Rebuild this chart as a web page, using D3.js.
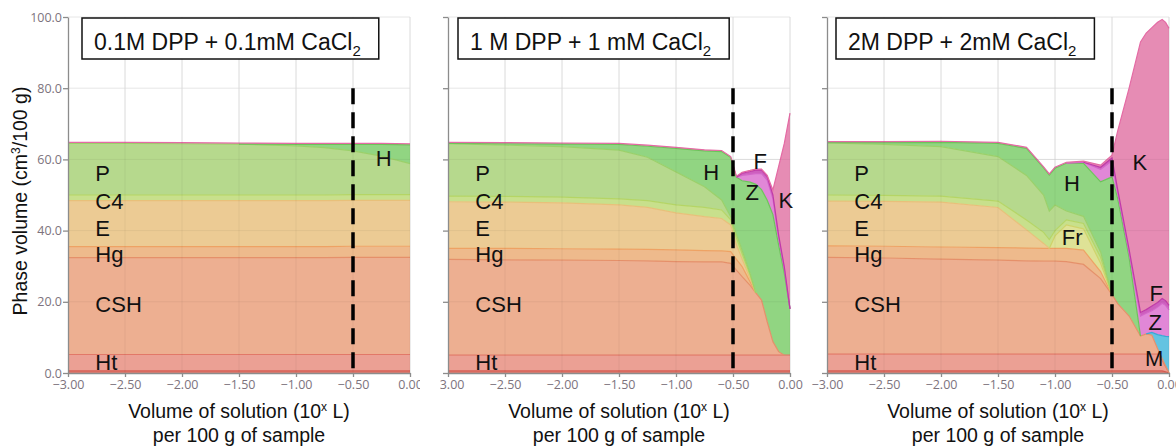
<!DOCTYPE html>
<html>
<head>
<meta charset="utf-8">
<script src="https://cdn.jsdelivr.net/npm/d3@7"></script>
<style>
  body { margin: 0; background: #fff; }
  svg { display: block; }
  .axis .tick text { font-family: "Open Sans", sans-serif; font-size: 12.5px; fill: #7d737d; }
  .axis path, .axis line { stroke: #8c8c8c; stroke-width: 1.3; }
  .phaseLabel { font-family: "Liberation Sans", Arial, sans-serif; font-size: 22px; fill: #111; }
  .title, .axisTitle { font-family: "Liberation Sans", Arial, sans-serif; fill: #111; }
</style>
</head>
<body>
<svg id="chart" width="1176" height="446"></svg>
<script>

/****************
***** DATA  *****
****************/

// stacking order, bottom to top
const phases = ["base", "Ht", "CSH", "M", "Hg", "E", "Fr", "C4", "P", "H", "Z", "F", "K"];

const xTicks = [-3, -2.5, -2, -1.5, -1, -0.5, 0];
const yTicks = [0, 20, 40, 60, 80, 100];

const titles = ["0.1M DPP + 0.1mM CaCl", "1 M DPP + 1 mM CaCl", "2M DPP + 2mM CaCl"];

// panel 1 : 0.1M DPP
const x1 = [-3, -2.5, -2, -1.5, -1, -0.75, -0.5, -0.25, 0];
const base1 = [0.6, 0.6, 0.6, 0.6, 0.6, 0.6, 0.6, 0.6, 0.6];
const ht1 = [4.6, 4.6, 4.6, 4.6, 4.6, 4.6, 4.6, 4.6, 4.6];
const csh1 = [27.2, 27.2, 27.2, 27.2, 27.2, 27.2, 27.3, 27.3, 27.3];
const m1 = [0, 0, 0, 0, 0, 0, 0, 0, 0];
const hg1 = [3.1, 3.1, 3.1, 3.1, 3.1, 3.1, 3.1, 3.1, 3.1];
const e1 = [12.9, 12.9, 12.9, 12.9, 12.9, 12.9, 12.9, 12.9, 12.9];
const fr1 = [0, 0, 0, 0, 0, 0, 0, 0, 0];
const c4_1 = [1.6, 1.6, 1.6, 1.6, 1.6, 1.6, 1.6, 1.6, 1.6];
const p1 = [14.5, 14.5, 14.4, 14.3, 13.8, 13.3, 12.3, 10.8, 8.7];
const h1 = [0, 0, 0, 0, 0.4, 0.9, 1.8, 3.3, 5.3];
const z1 = [0, 0, 0, 0, 0, 0, 0, 0, 0];
const f1 = [0, 0, 0, 0, 0, 0, 0, 0, 0];
const k1 = [0.3, 0.3, 0.3, 0.3, 0.3, 0.3, 0.3, 0.3, 0.3];

// panel 2 : 1 M DPP
const x2 = [-3, -2.5, -2, -1.5, -1.25, -1, -0.75, -0.6, -0.52, -0.47, -0.42, -0.35, -0.3, -0.25, -0.2, -0.15, -0.1, -0.05, 0];
const base2 = [0.6, 0.6, 0.6, 0.6, 0.6, 0.6, 0.6, 0.6, 0.6, 0.6, 0.6, 0.6, 0.6, 0.6, 0.6, 0.6, 0.6, 0.6, 0.6];
const ht2 = [4.4, 4.4, 4.4, 4.4, 4.4, 4.4, 4.4, 4.4, 4.4, 4.4, 4.4, 4.4, 4.4, 4.4, 4.4, 4.4, 4.4, 4.4, 4.4];
const csh2 = [26.9, 26.8, 26.7, 26.6, 26.5, 26.3, 26.2, 26.2, 25.8, 23.9, 22.1, 19.6, 17.5, 15.5, 9.4, 3.8, 1.0, 0, 0];
const m2 = [0, 0, 0, 0, 0, 0, 0, 0, 0, 0, 0, 0, 0, 0, 0, 0, 0, 0, 0];
const hg2 = [3.1, 3.2, 3.2, 3.2, 3.2, 3.3, 3.2, 3.1, 3.3, 3.0, 2.8, 1.0, 0, 0, 0, 0, 0, 0, 0];
const e2 = [13.1, 13.0, 12.9, 12.4, 11.8, 10.4, 9.5, 9.1, 7.5, 4.1, 2.1, 0.9, 0, 0, 0, 0, 0, 0, 0];
const fr2 = [0, 0, 0, 0, 0, 0, 0, 0, 0, 0, 0, 0, 0, 0, 0, 0, 0, 0, 0];
const c4_2 = [1.6, 1.6, 1.6, 1.7, 1.9, 2.2, 2.6, 2.4, 1.4, 2.0, 1.5, 1.0, 0, 0, 0, 0, 0, 0, 0];
const p2 = [14.7, 14.4, 14.2, 13.7, 12.2, 9.3, 5.8, 2.8, 0.9, 1.0, 1.0, 0.5, 0, 0, 0, 0, 0, 0, 0];
const h2 = [0.1, 0.4, 0.7, 1.6, 3.1, 6.6, 10.1, 13.6, 16.6, 16.0, 19.5, 25.6, 30.5, 31.0, 34.1, 35.7, 30.0, 23.0, 13.0];
const z2 = [0, 0, 0, 0, 0, 0, 0, 0, 0, 0, 1.5, 2.2, 3.0, 4.5, 5.7, 4.5, 2.0, 1.2, 0];
const f2 = [0, 0, 0, 0, 0, 0, 0, 0, 0, 0, 0.6, 0.8, 1.0, 1.0, 1.0, 1.0, 0.8, 0.6, 0];
const k2 = [0.3, 0.3, 0.3, 0.3, 0.3, 0.3, 0.3, 0.3, 0.3, 0.3, 0.3, 0.3, 0.3, 0.3, 0.3, 1.4, 19.2, 34.7, 55.0];

// panel 3 : 2M DPP
const x3 = [-3, -2.5, -2, -1.5, -1.25, -1.1, -1.05, -1.0, -0.9, -0.75, -0.6, -0.5, -0.45, -0.35, -0.25, -0.2, -0.15, -0.1, -0.06, -0.03, 0];
const base3 = [0.6, 0.6, 0.6, 0.6, 0.6, 0.6, 0.6, 0.6, 0.6, 0.6, 0.6, 0.6, 0.6, 0.6, 0.6, 0.6, 0.6, 0.6, 0.6, 0.3, 0];
const ht3 = [4.7, 4.7, 4.7, 4.7, 4.7, 4.7, 4.7, 4.7, 4.7, 4.7, 4.7, 4.7, 4.7, 4.7, 4.7, 4.7, 4.7, 4.7, 2.9, 1.5, 0];
const csh3 = [27.2, 27.0, 26.7, 26.4, 26.2, 26.1, 26.1, 26.1, 26.0, 25.2, 21.2, 16.7, 14.2, 10.7, 5.1, 5.7, 5.3, 1.5, 0.6, 0.2, 0];
const m3 = [0, 0, 0, 0, 0, 0, 0, 0, 0, 0, 0, 0, 0, 0, 0, 0, 0.8, 4.0, 6.4, 8.3, 10.2];
const hg3 = [3.2, 3.3, 3.4, 3.5, 3.6, 3.6, 3.6, 3.6, 3.7, 4.0, 2.0, 0, 0, 0, 0, 0, 0, 0, 0, 0, 0];
const e3 = [12.6, 12.6, 12.6, 11.3, 5.1, 1.4, 0, 0, 0, 0, 0, 0, 0, 0, 0, 0, 0, 0, 0, 0, 0];
const fr3 = [0, 0, 0, 0, 0, 0, 0, 3.5, 6.6, 6.0, 2.3, 0, 0, 0, 0, 0, 0, 0, 0, 0, 0];
const c4_3 = [1.7, 1.7, 1.7, 1.8, 2.8, 3.1, 2.5, 1.5, 1.4, 1.5, 1.7, 0, 0, 0, 0, 0, 0, 0, 0, 0, 0];
const p3 = [14.6, 14.3, 13.9, 12.5, 12.5, 10.5, 8.0, 7.2, 2.5, 2.0, 1.5, 0, 0, 0, 0, 0, 0, 0, 0, 0, 0];
const h3 = [0.1, 0.5, 1.2, 3.7, 7.6, 7.6, 10.1, 10.3, 13.4, 14.9, 19.7, 33.1, 29.5, 16.5, 0, 0, 0, 0, 0, 0, 0];
const z3 = [0, 0, 0, 0, 0, 0, 0, 0, 0, 0.3, 3.5, 4.5, 1.5, 1.2, 5.6, 5.8, 6.1, 7.7, 9.1, 8.7, 7.5];
const f3 = [0, 0, 0, 0, 0, 0, 0, 0, 0, 0, 0.6, 0.8, 1.0, 1.0, 1.0, 1.0, 1.3, 1.3, 1.3, 1.3, 1.3];
const k3 = [0.3, 0.3, 0.3, 0.3, 0.3, 0.3, 0.3, 0.3, 0.3, 0.3, 0.6, 0.8, 16.5, 45.3, 76.0, 77.7, 78.2, 78.7, 78.4, 78.2, 77.8];

// phase names written on the areas: [text, x, y] in data units
const leftLabels = [["P", 56.1], ["C4", 48.3], ["E", 40.6], ["Hg", 33.4], ["CSH", 19.4], ["Ht", 3.2]];
const labels1 = [["H", -0.30, 60.5]];
const labels2 = [["H", -0.76, 56.3], ["F", -0.32, 59.6], ["Z", -0.39, 50.9], ["K", -0.10, 48.6]];
const labels3 = [["K", -0.32, 59.2], ["H", -0.92, 53.3], ["Fr", -0.94, 38.3], ["F", -0.17, 22.4], ["Z", -0.18, 14.4], ["M", -0.21, 4.1]];


/*****************
***** COLORS *****
*****************/

const fillColors = {
    base: "#e07a6e", Ht: "#eba094", CSH: "#edaf91", M: "#64c3e1", Hg: "#eeba8c",
    E: "#eccb94", Fr: "#dee296", C4: "#c8e08c", P: "#b6d98d", H: "#91d582",
    Z: "#e187d7", F: "#cd5fbe", K: "#e68cb4"
};
const lineColors = {
    base: "#d45a50", Ht: "#e27868", CSH: "#e5906a", M: "#3aa7d5", Hg: "#eea264",
    E: "#e8c07a", Fr: "#cfd36a", C4: "#b5d565", P: "#9bd06a", H: "#6cc45a",
    Z: "#d365c8", F: "#c03aa8", K: "#e46aa4"
};


/**********************
***** BASIC SETUP *****
**********************/

const svg = d3.select("#chart");
const plotTop = 17, plotBottom = 373, plotWidth = 342;

const panels = [
    {xs: x1, vols: [base1, ht1, csh1, m1, hg1, e1, fr1, c4_1, p1, h1, z1, f1, k1], labels: labels1, left: 68, clip: [0, 420], boxOffset: 14, yLabels: true},
    {xs: x2, vols: [base2, ht2, csh2, m2, hg2, e2, fr2, c4_2, p2, h2, z2, f2, k2], labels: labels2, left: 448, clip: [440, 810], boxOffset: 10, yLabels: false},
    {xs: x3, vols: [base3, ht3, csh3, m3, hg3, e3, fr3, c4_3, p3, h3, z3, f3, k3], labels: labels3, left: 827, clip: [810, 1176], boxOffset: 9, yLabels: false}
];

const yScale = d3.scaleLinear()
    .domain([0, 100])
    .range([plotBottom, plotTop]);

const defs = svg.append("defs");

panels.forEach((panel, pi) => {

    const xScale = d3.scaleLinear()
        .domain([-3, 0])
        .range([panel.left, panel.left + plotWidth]);

    defs.append("clipPath")
        .attr("id", "clip" + pi)
        .append("rect")
        .attr("x", panel.clip[0]).attr("y", 0)
        .attr("width", panel.clip[1] - panel.clip[0]).attr("height", 446);

    const g = svg.append("g").attr("clip-path", `url(#clip${pi})`);

    /*** grid under the areas ***/
    const gridUnder = g.append("g");
    gridUnder.selectAll(".vg").data(xTicks.slice(1)).enter().append("line")
        .attr("x1", d => xScale(d)).attr("x2", d => xScale(d))
        .attr("y1", plotTop).attr("y2", plotBottom)
        .attr("stroke", "#e6e6e6");
    gridUnder.selectAll(".hg").data(yTicks.slice(1)).enter().append("line")
        .attr("x1", xScale(-3)).attr("x2", xScale(0))
        .attr("y1", d => yScale(d)).attr("y2", d => yScale(d))
        .attr("stroke", "#e6e6e6");

    /*** stacked areas ***/
    const rows = panel.xs.map((x, i) => {
        const r = {x: x};
        phases.forEach((p, k) => r[p] = panel.vols[k][i]);
        return r;
    });
    const series = d3.stack().keys(phases)(rows);

    const area = d3.area()
        .x(d => xScale(d.data.x))
        .y0(d => yScale(d[0]))
        .y1(d => yScale(d[1]));

    g.selectAll(".layer")
        .data(series)
        .enter()
        .append("path")
        .attr("class", "layer")
        .attr("d", area)
        .attr("fill", d => fillColors[d.key]);

    // top edge of each layer, only where the layer exists
    const thick = d => d[1] - d[0] > 0.05;
    const edge = d3.line()
        .defined((d, i, arr) => thick(d) || (i > 0 && thick(arr[i - 1])) || (i < arr.length - 1 && thick(arr[i + 1])))
        .x(d => xScale(d.data.x))
        .y(d => yScale(d[1]));

    g.selectAll(".edge")
        .data(series)
        .enter()
        .append("path")
        .attr("class", "edge")
        .attr("d", d => edge(d))
        .attr("fill", "none")
        .attr("stroke", d => lineColors[d.key])
        .attr("stroke-width", 1.2);

    /*** faint grid over the areas ***/
    const gridOver = g.append("g").attr("stroke", "#000").attr("stroke-opacity", 0.05);
    gridOver.selectAll(".vg").data(xTicks.slice(1)).enter().append("line")
        .attr("x1", d => xScale(d)).attr("x2", d => xScale(d))
        .attr("y1", plotTop).attr("y2", plotBottom);
    gridOver.selectAll(".hg").data(yTicks.slice(1, 4)).enter().append("line")
        .attr("x1", xScale(-3)).attr("x2", xScale(0))
        .attr("y1", d => yScale(d)).attr("y2", d => yScale(d));

    /*** axes ***/
    g.append("g")
        .attr("class", "axis")
        .attr("transform", `translate(0, ${plotBottom})`)
        .call(d3.axisBottom(xScale)
            .tickValues(xTicks)
            .tickFormat(d3.format(".2f"))
            .tickSizeInner(4)
            .tickSizeOuter(0)
            .tickPadding(3));

    g.append("g")
        .attr("class", "axis")
        .attr("transform", `translate(${panel.left}, 0)`)
        .call(d3.axisLeft(yScale)
            .tickValues(yTicks)
            .tickFormat(panel.yLabels ? d3.format(".1f") : "")
            .tickSizeInner(5)
            .tickSizeOuter(0)
            .tickPadding(1));

    /*** dashed line at x = -0.5 ***/
    g.append("line")
        .attr("x1", xScale(-0.5)).attr("x2", xScale(-0.5))
        .attr("y1", yScale(80)).attr("y2", yScale(0))
        .attr("stroke", "#000")
        .attr("stroke-width", 3.5)
        .attr("stroke-dasharray", "16,8");

    /*** phase labels ***/
    const labs = leftLabels.map(l => [l[0], -2.76, l[1]]).concat(panel.labels);
    g.selectAll(".phaseLabel")
        .data(labs)
        .enter()
        .append("text")
        .attr("class", "phaseLabel")
        .attr("x", d => xScale(d[1]))
        .attr("y", d => yScale(d[2]))
        .attr("dy", "0.36em")
        .text(d => d[0]);

    /*** title box ***/
    const tg = g.append("g");
    const box = tg.append("rect")
        .attr("fill", "#fff")
        .attr("stroke", "#111")
        .attr("stroke-width", 1.5);
    const bx = panel.left + panel.boxOffset;
    const t = tg.append("text")
        .attr("class", "title")
        .attr("x", bx + 12)
        .attr("y", 49.5)
        .style("font-size", "23px");
    t.append("tspan").text(titles[pi]);
    t.append("tspan").attr("dy", 6).style("font-size", "15px").text("2");
    const w = t.node().getComputedTextLength();
    box.attr("x", bx).attr("y", 18).attr("width", w + 30).attr("height", 41);

    /*** x axis title ***/
    const cx = panel.left + plotWidth / 2;
    const xt = g.append("text")
        .attr("class", "axisTitle")
        .attr("x", cx).attr("y", 418)
        .attr("text-anchor", "middle")
        .style("font-size", "19.5px");
    xt.append("tspan").text("Volume of solution (10");
    xt.append("tspan").attr("dy", -7).style("font-size", "12px").text("x");
    xt.append("tspan").attr("dy", 7).text(" L)");
    g.append("text")
        .attr("class", "axisTitle")
        .attr("x", cx).attr("y", 442)
        .attr("text-anchor", "middle")
        .style("font-size", "19.5px")
        .text("per 100 g of sample");
});

/*** y axis title ***/
const yt = svg.append("text")
    .attr("class", "axisTitle")
    .attr("transform", "translate(27, 201) rotate(-90)")
    .attr("text-anchor", "middle")
    .style("font-size", "19.5px");
yt.append("tspan").text("Phase volume (cm");
yt.append("tspan").attr("dy", -7).style("font-size", "12px").text("3");
yt.append("tspan").attr("dy", 7).text("/100 g)");

</script>
</body>
</html>
